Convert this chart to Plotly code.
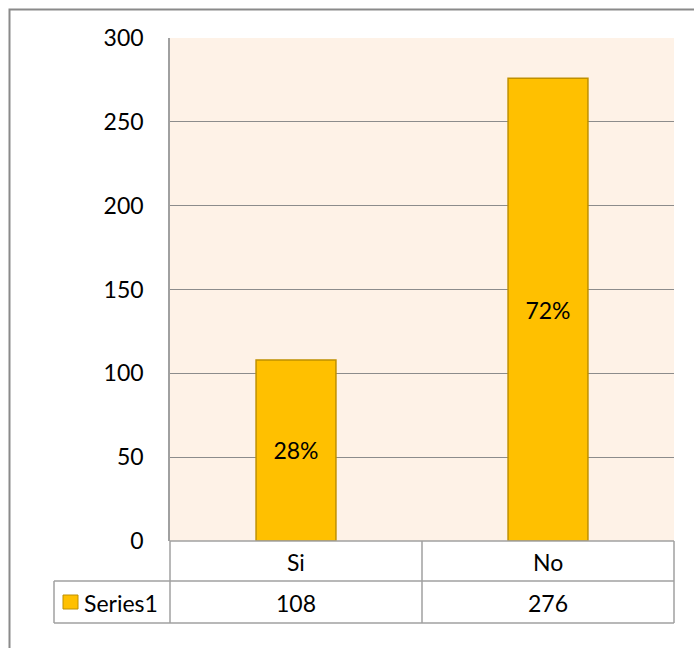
import plotly.graph_objects as go

categories = ["Si", "No"]
values = [108, 276]
series_name = "Series1"
y_ticks = [0, 50, 100, 150, 200, 250, 300]

total = sum(values)
pct_labels = [f"{round(v / total * 100)}%" for v in values]

W, H = 694, 648
L, R, T, B = 170, 674, 38, 541  # plot area in pixels
pw, ph = R - L, B - T


def px_x(x):
    return (x - L) / pw


def px_y(y):
    return (B - y) / ph


FONT = "Lato"
FS = 23
GRID = "#8C8C8C"
BORDER = "#A0A0A0"
BAR = "#FFC000"
BAR_EDGE = "#BF9000"

fig = go.Figure()
fig.add_trace(go.Bar(
    x=categories, y=values, name=series_name,
    width=0.317,
    marker=dict(color=BAR, line=dict(color=BAR_EDGE, width=1.5)),
    text=pct_labels, textposition="inside", insidetextanchor="middle",
    textfont=dict(family=FONT, size=FS, color="black"),
    textangle=0,
))

shapes = []
# outer chart frame
shapes.append(dict(type="rect", xref="paper", yref="paper",
                   x0=px_x(9.5), x1=px_x(720), y0=px_y(720), y1=px_y(9.5),
                   line=dict(color="#8A8A8A", width=2), layer="below"))

# data table under the axis
row1_bot, row2_bot = 581, 623
mid_x = 422
table_lines = [
    (L, B, R, B),
    (L, row1_bot, R, row1_bot),
    (54, row1_bot, 54, row2_bot),
    (54, row1_bot, L, row1_bot),
    (54, row2_bot, R, row2_bot),
    (L, B, L, row2_bot),
    (mid_x, B, mid_x, row2_bot),
    (R, B, R, row2_bot),
]
for x0, y0, x1, y1 in table_lines:
    shapes.append(dict(type="line", xref="paper", yref="paper",
                       x0=px_x(x0), x1=px_x(x1), y0=px_y(y0), y1=px_y(y1),
                       line=dict(color=BORDER, width=1.5)))

# legend key inside the table
shapes.append(dict(type="rect", xref="paper", yref="paper",
                   x0=px_x(63), x1=px_x(78), y0=px_y(609), y1=px_y(595),
                   fillcolor=BAR, line=dict(color=BAR_EDGE, width=1)))

annotations = []
for cat, val in zip(categories, values):
    annotations.append(dict(x=cat, xref="x", y=px_y((B + row1_bot) / 2 + 1), yref="paper",
                            yanchor="middle", text=cat, showarrow=False,
                            font=dict(family=FONT, size=FS, color="black")))
    annotations.append(dict(x=cat, xref="x", y=px_y((row1_bot + row2_bot) / 2 + 1), yref="paper",
                            yanchor="middle", text=str(val), showarrow=False,
                            font=dict(family=FONT, size=FS, color="black")))
annotations.append(dict(x=px_x(82), xref="paper", y=px_y((row1_bot + row2_bot) / 2 + 1), yref="paper",
                        xanchor="left", yanchor="middle", text=series_name, showarrow=False,
                        font=dict(family=FONT, size=FS, color="black")))

fig.update_layout(
    width=W, height=H,
    margin=dict(l=L, r=W - R, t=T, b=H - B),
    paper_bgcolor="white",
    plot_bgcolor="#FEF2E7",
    showlegend=False,
    bargap=0.683,
    shapes=shapes,
    annotations=annotations,
    font=dict(family=FONT, size=FS, color="black"),
    xaxis=dict(showticklabels=False, showgrid=False, zeroline=False,
               showline=False, fixedrange=True),
    yaxis=dict(range=[0, 300], tickvals=y_ticks, showgrid=True,
               gridcolor=GRID, gridwidth=1, zeroline=False,
               showline=True, linecolor=BORDER, linewidth=1.5,
               ticks="", ticklabelstandoff=20,
               tickfont=dict(family=FONT, size=FS, color="black")),
)

fig.write_html("out.html")
